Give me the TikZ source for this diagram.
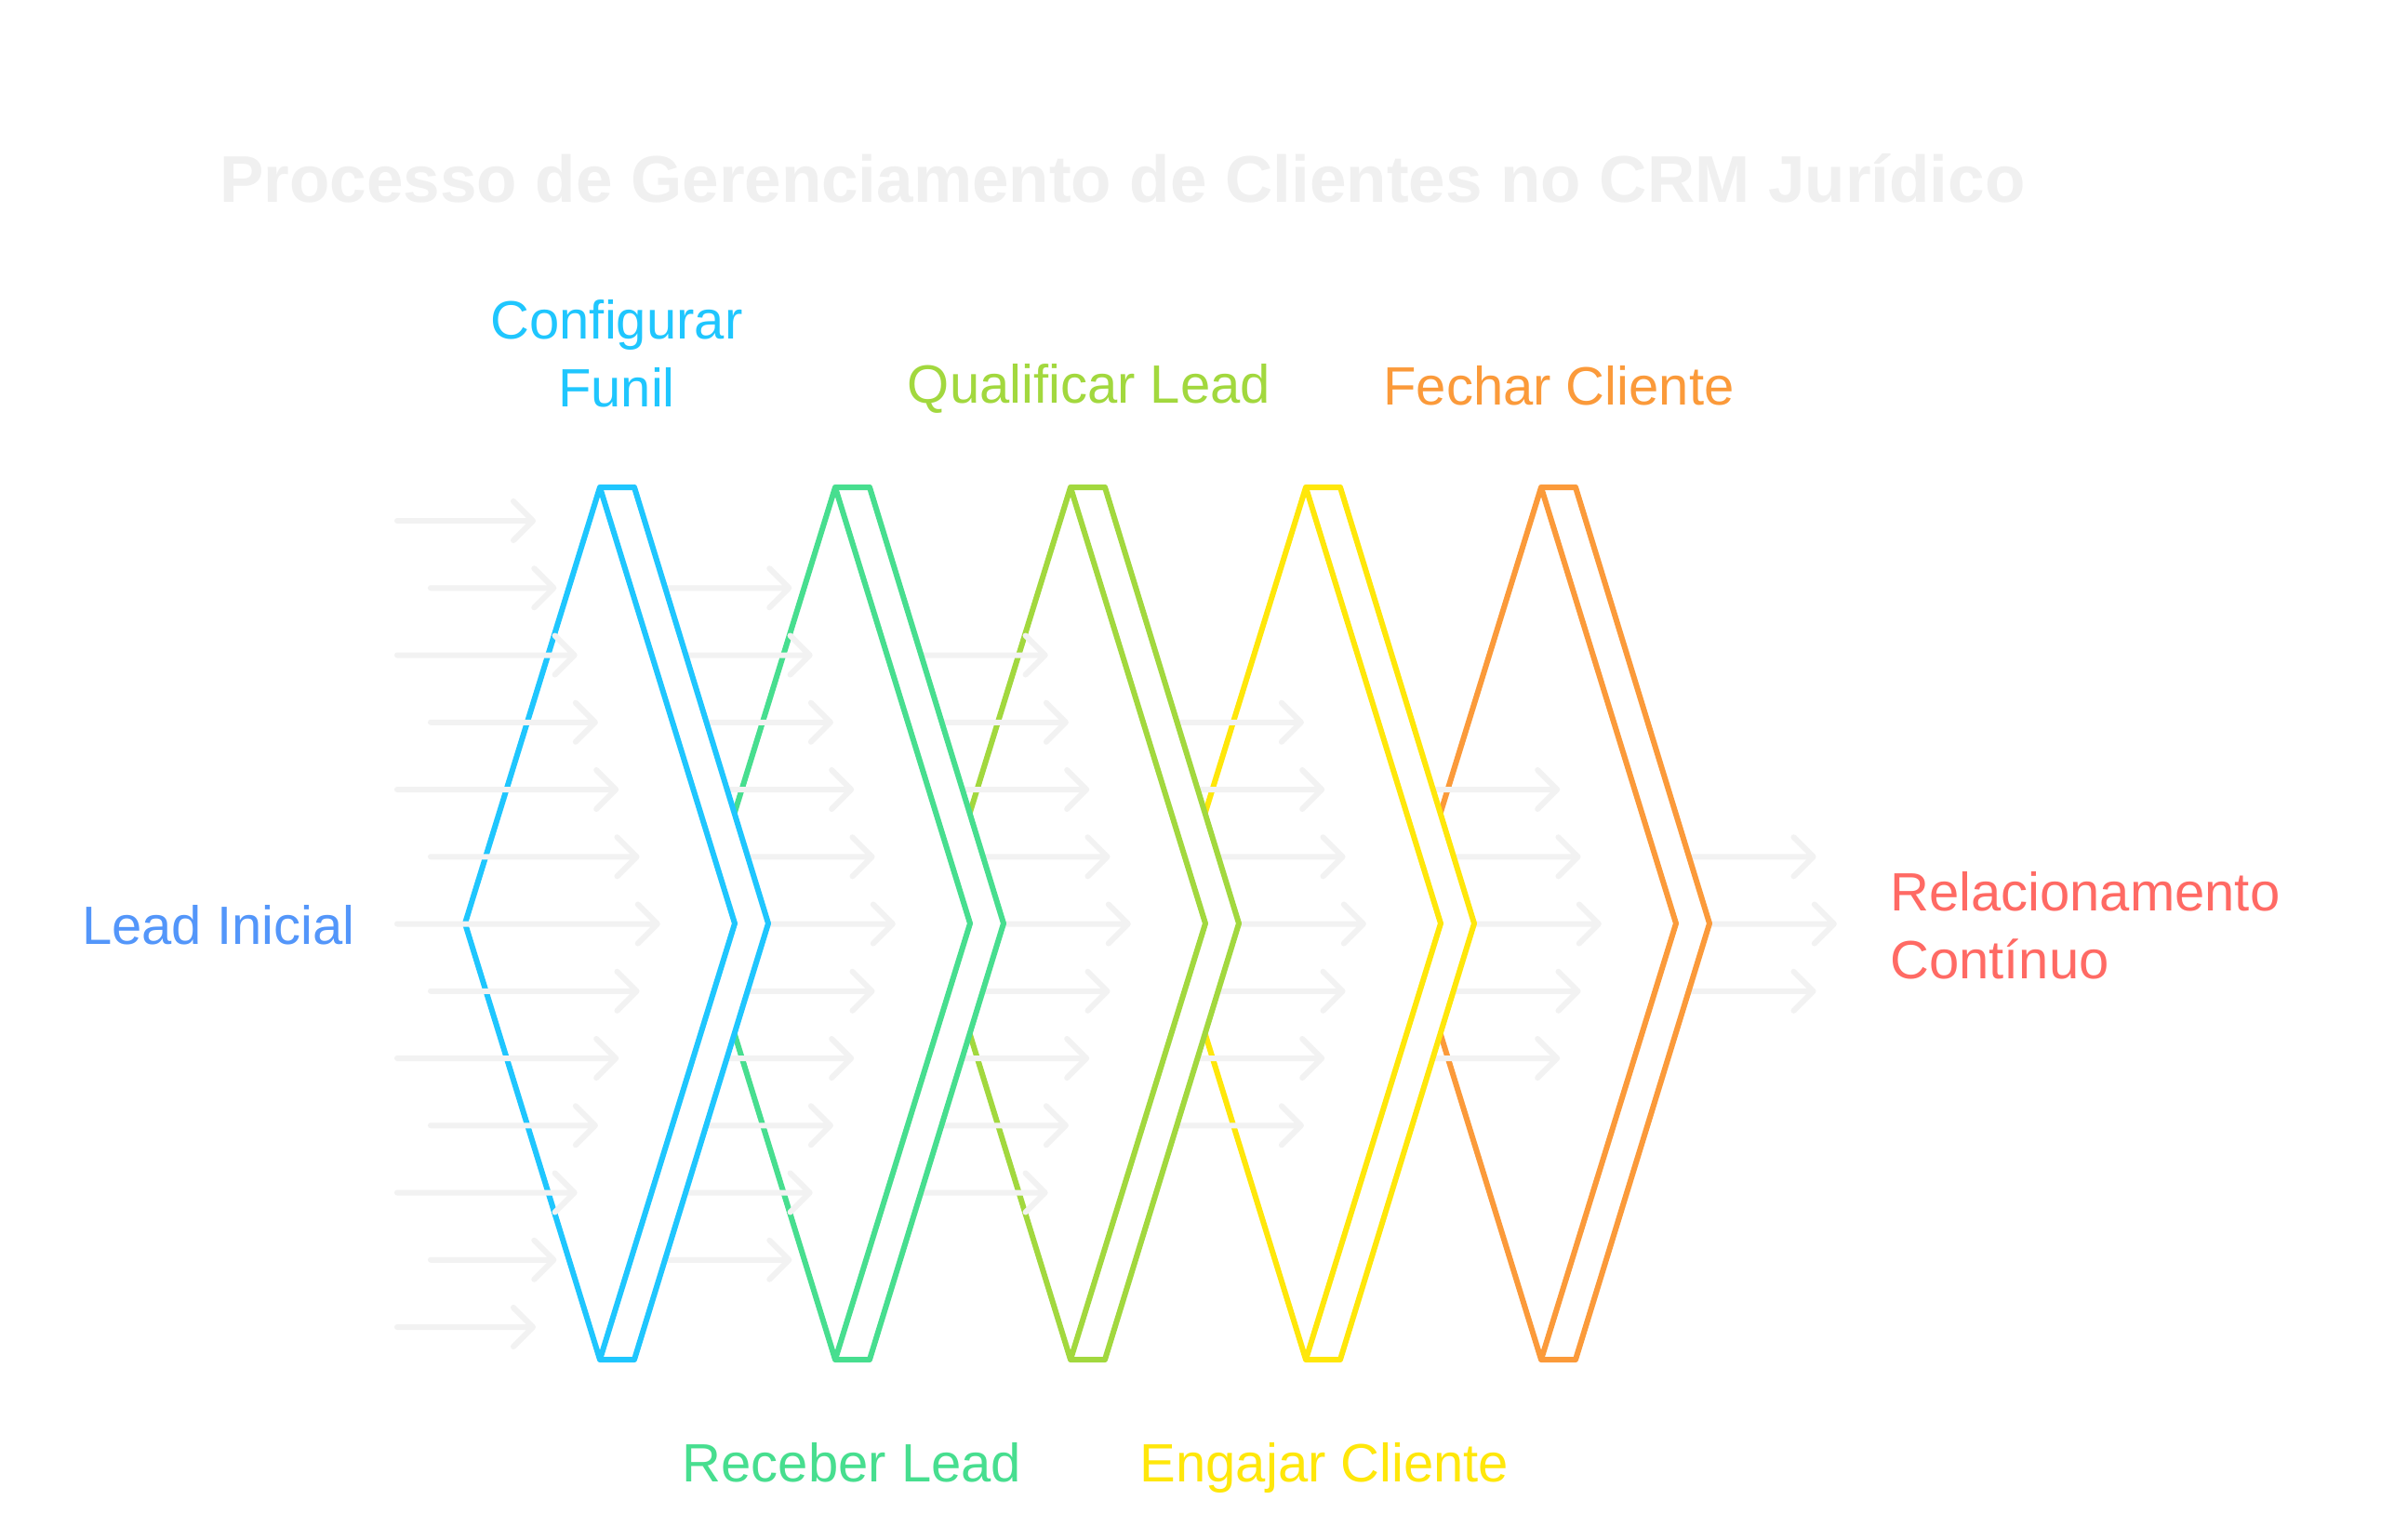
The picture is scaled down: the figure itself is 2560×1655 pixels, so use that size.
\documentclass[tikz,border=0pt]{standalone}
\usepackage{fontspec}
\setmainfont{Liberation Sans}
\definecolor{cBlue}{HTML}{1FC6FE}
\definecolor{cGreen}{HTML}{47DE8F}
\definecolor{cLime}{HTML}{A2D83E}
\definecolor{cYellow}{HTML}{FFE70A}
\definecolor{cOrange}{HTML}{FB9A3A}
\definecolor{cLead}{HTML}{5396FA}
\definecolor{cRel}{HTML}{FF6A64}
\definecolor{cGray}{HTML}{F2F2F2}
\definecolor{cTitle}{HTML}{F0F0F0}
\newcommand\mychev[2]{%
  \pgfmathsetmacro\xa{645+253*#1}%
  \draw[chevline, draw=#2, fill=white] (\xa-145,993) -- (\xa,524) -- (\xa+37,524) -- (\xa+181,993) -- (\xa+37,1462) -- (\xa,1462) -- cycle;
  \draw[chevline, draw=#2] (\xa,524) -- (\xa+145,993) -- (\xa,1462);
}
\newcommand\myarrcol[1]{%
  \foreach \r in {0,...,12}{%
    \pgfmathtruncatemacro\d{6-abs(\r-6)}%
    \ifnum\d<#1\relax\else
      \pgfmathsetmacro\tip{573+22.3*\d+253*#1}%
      \pgfmathsetmacro\yy{560+72.25*\r}%
      \ifnum#1=0
        \pgfmathsetmacro\st{ifthenelse(mod(\r,2)==0,427,463)}%
      \else
        \pgfmathsetmacro\st{\tip-180}%
      \fi
      \draw[flowarrow] (\st,\yy) -- (\tip,\yy) (\tip-21,\yy-21) -- (\tip,\yy) -- (\tip-21,\yy+21);
    \fi
  }%
}
\begin{document}
\begin{tikzpicture}[x=1pt,y=-1pt,
  chevline/.style={line width=6pt, line join=round},
  flowarrow/.style={draw=cGray, line width=6pt, line cap=round, line join=round},
  lbl/.style={inner sep=0pt, font=\fontsize{58}{73}\selectfont}]
\useasboundingbox[fill=white] (0,0) rectangle (2560,1655);
\node[inner sep=0pt, anchor=base, text=cTitle, font=\fontsize{71}{80}\selectfont\bfseries] (title) at (1207,217) {Processo de Gerenciamento de Clientes no CRM Jurídico};
\myarrcol{5}
\mychev{4}{cOrange}
\myarrcol{4}
\mychev{3}{cYellow}
\myarrcol{3}
\mychev{2}{cLime}
\myarrcol{2}
\mychev{1}{cGreen}
\myarrcol{1}
\mychev{0}{cBlue}
\myarrcol{0}
\node[lbl, anchor=base west, text=cLead] (lead) at (88,1015) {Lead Inicial};
\node[lbl, anchor=base, align=center, text=cBlue] (conf) at (663,437) {Configurar\\Funil};
\node[lbl, anchor=base, text=cGreen] (rec) at (916,1593) {Receber Lead};
\node[lbl, anchor=base, text=cLime] (qual) at (1171,433) {Qualificar Lead};
\node[lbl, anchor=base, text=cYellow] (eng) at (1424,1593) {Engajar Cliente};
\node[lbl, anchor=base, text=cOrange] (fech) at (1676,435) {Fechar Cliente};
\node[lbl, anchor=base west, align=left, text=cRel] (rel) at (2032,1052) {Relacionamento\\Contínuo};
\end{tikzpicture}
\end{document}
